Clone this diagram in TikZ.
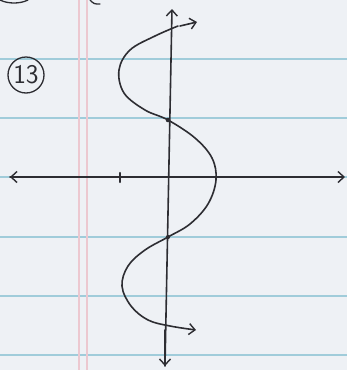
\documentclass[tikz,border=0pt]{standalone}
\usetikzlibrary{arrows.meta}
\definecolor{paper}{RGB}{238,241,245}
\definecolor{rule}{RGB}{160,204,218}
\definecolor{margin}{RGB}{236,200,208}
\definecolor{ink}{RGB}{45,45,50}
\tikzset{
  ruleline/.style={rule, line width=2.6pt},
  marginline/.style={margin, line width=2pt},
  inkline/.style={ink, line width=1.6pt, line cap=round},
  tip/.style={-{Straight Barb[length=6pt,width=11pt,line width=1.4pt]}},
}
\begin{document}
\begin{tikzpicture}[x=1pt,y=-1pt]
\fill[paper] (0,0) rectangle (347,370);
\useasboundingbox (0,0) rectangle (347,370);
% ruled lines
\foreach \yy in {59,118,177,237,296,355} \draw[ruleline] (0,\yy) -- (347,\yy);
% margin lines
\draw[marginline] (79,0) -- (79,370);
\draw[marginline] (87,0) -- (87,370);
% fragments of the previous problem at the top edge
\draw[inkline, line width=1.3pt] (0,0) .. controls (8,4) and (20,4) .. (28,0);
\draw[inkline, line width=1.3pt] (90,0) .. controls (94,4) .. (100,4);
% problem number
\node[draw=ink, circle, line width=1.3pt, minimum size=36pt, inner sep=0pt, font=\sffamily\fontsize{27}{27}\selectfont, text=ink] (num) at (26,75) {13};
% axes
\coordinate (ytop) at (172,9);
\coordinate (ybot) at (165,366);
\coordinate (xl) at (10,177);
\coordinate (xr) at (345,177);
\draw[inkline, tip] (ybot) -- (ytop);
\draw[inkline, tip] (165,330) -- (ybot);
\draw[inkline, tip] (xl) -- (xr);
\draw[inkline, tip] (200,177) -- (xl);
% tick
\draw[inkline, line width=2.2pt] (120,173) -- (120,182);
% intercept dots
\fill[ink] (168,120) circle (2.3pt);
\fill[ink] (168,237) circle (2.1pt);
% the curve
\coordinate (cstart) at (197,22);
\coordinate (cend) at (198,330);
\draw[inkline, tip] plot[smooth, tension=0.6] coordinates {
  (178,26) (155,36) (130,50) (119,70) (124,93) (145,110) (168,120)
  (195,138) (212,158) (216,180) (208,204) (190,224) (168,237)
  (145,250) (128,266) (122,286) (131,306) (148,320) (170,326) (196,330)};
\draw[inkline, tip] (180,26) -- (cstart);
\end{tikzpicture}
\end{document}
